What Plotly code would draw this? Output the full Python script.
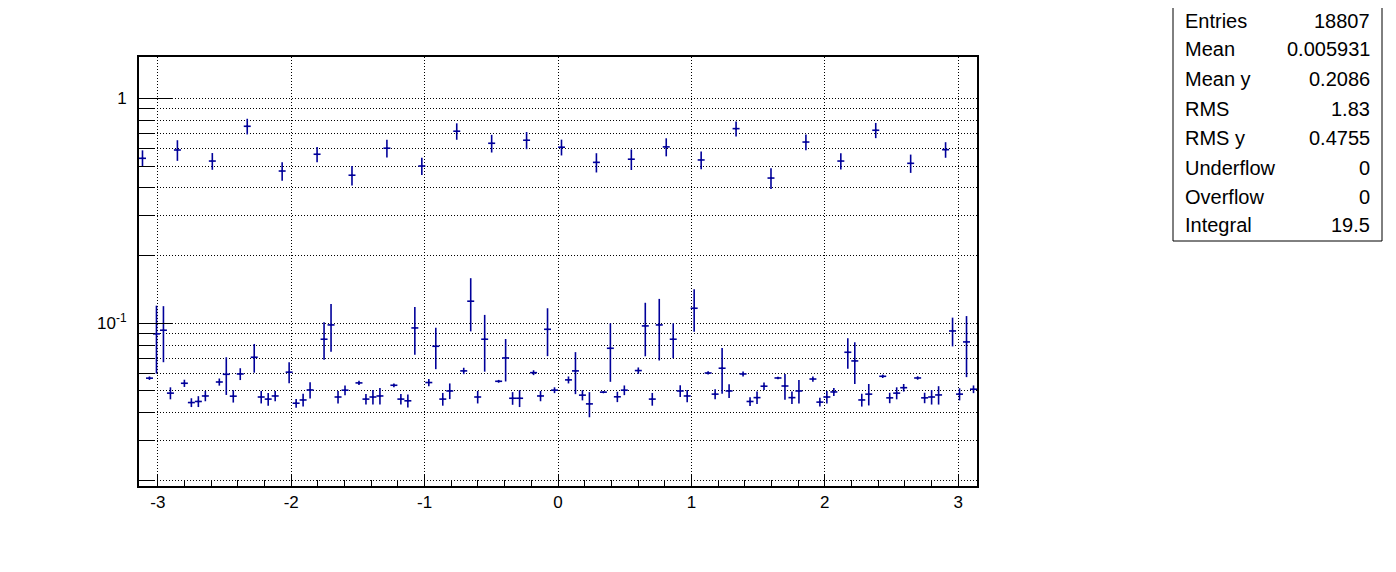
import plotly.graph_objects as go
import math

# ---- Binning of the profile (120 bins over [-pi, pi]) ----
n_bins = 120
x_min = -math.pi
x_max = math.pi

# ---- Bin contents (mean y per bin) ----
y_values = [
    0.541, 0.0570, 0.0897, 0.0931, 0.0489,
    0.589, 0.0541, 0.0444, 0.0449, 0.0475,
    0.526, 0.0548, 0.0593, 0.0474, 0.0595,
    0.751, 0.0706, 0.0470, 0.0460, 0.0475,
    0.475, 0.0606, 0.0441, 0.0456, 0.0505,
    0.564, 0.0849, 0.0983, 0.0470, 0.0504,
    0.455, 0.0543, 0.0460, 0.0470, 0.0475,
    0.600, 0.0530, 0.0460, 0.0452, 0.0953,
    0.500, 0.0545, 0.0790, 0.0460, 0.0500,
    0.714, 0.0614, 0.1253, 0.0470, 0.0849,
    0.631, 0.0552, 0.0701, 0.0464, 0.0464,
    0.651, 0.0603, 0.0475, 0.0940, 0.0504,
    0.606, 0.0560, 0.0614, 0.0479, 0.0438,
    0.519, 0.0494, 0.0774, 0.0471, 0.0504,
    0.536, 0.0616, 0.0973, 0.0460, 0.0983,
    0.608, 0.0849, 0.0500, 0.0475, 0.1166,
    0.532, 0.0601, 0.0484, 0.0631, 0.0500,
    0.733, 0.0595, 0.0449, 0.0467, 0.0525,
    0.442, 0.0571, 0.0526, 0.0467, 0.0500,
    0.639, 0.0565, 0.0446, 0.0470, 0.0495,
    0.526, 0.0743, 0.0680, 0.0456, 0.0484,
    0.721, 0.0581, 0.0466, 0.0489, 0.0517,
    0.514, 0.0571, 0.0466, 0.0470, 0.0480,
    0.591, 0.0924, 0.0484, 0.0826, 0.0509,
]

# ---- Errors on the bin contents ----
y_errors = [
    0.046, 0.0010, 0.0300, 0.0260, 0.0030,
    0.062, 0.0020, 0.0020, 0.0025, 0.0025,
    0.045, 0.0020, 0.0113, 0.0030, 0.0036,
    0.060, 0.0103, 0.0030, 0.0030, 0.0025,
    0.045, 0.0065, 0.0020, 0.0030, 0.0042,
    0.044, 0.0160, 0.0236, 0.0030, 0.0025,
    0.045, 0.0012, 0.0025, 0.0035, 0.0040,
    0.054, 0.0010, 0.0025, 0.0030, 0.0228,
    0.044, 0.0020, 0.0165, 0.0030, 0.0040,
    0.060, 0.0020, 0.0333, 0.0030, 0.0240,
    0.057, 0.0008, 0.0150, 0.0030, 0.0040,
    0.057, 0.0015, 0.0025, 0.0226, 0.0015,
    0.049, 0.0020, 0.0130, 0.0025, 0.0056,
    0.051, 0.0005, 0.0225, 0.0025, 0.0025,
    0.056, 0.0020, 0.0260, 0.0030, 0.0300,
    0.056, 0.0150, 0.0030, 0.0030, 0.0250,
    0.048, 0.0010, 0.0025, 0.0145, 0.0035,
    0.056, 0.0015, 0.0020, 0.0030, 0.0020,
    0.047, 0.0008, 0.0069, 0.0030, 0.0060,
    0.052, 0.0015, 0.0020, 0.0030, 0.0020,
    0.044, 0.0115, 0.0143, 0.0030, 0.0053,
    0.056, 0.0010, 0.0025, 0.0030, 0.0020,
    0.048, 0.0010, 0.0025, 0.0035, 0.0045,
    0.047, 0.0135, 0.0030, 0.0250, 0.0020,
]

# ---- Statistics box ----
stat_labels = ["Entries", "Mean", "Mean y", "RMS", "RMS y", "Underflow", "Overflow", "Integral"]
stat_values = ["18807", "0.005931", "0.2086", "1.83", "0.4755", "0", "0", "19.5"]

# ---- Axis ticks ----
x_tick_vals = [-3, -2, -1, 0, 1, 2, 3]
x_tick_text = ["-3", "-2", "-1", "0", "1", "2", "3"]
y_major_vals = [0.1, 1.0]
y_major_text = ["10<sup>-1</sup>", "1"]
y_minor_vals = [0.02, 0.03, 0.04, 0.05, 0.06, 0.07, 0.08, 0.09,
                0.2, 0.3, 0.4, 0.5, 0.6, 0.7, 0.8, 0.9]
y_min, y_max = 0.0189, 1.526

bin_w = (x_max - x_min) / n_bins
x_centers = [x_min + (i + 0.5) * bin_w for i in range(n_bins)]

# page body has an 8px margin -> figure drawn 8px in from the window corner
OFF = 8
W, H = 1396 - 2 * OFF, 572 - 2 * OFF
L, T = 139 - OFF, 57 - OFF
R = W - (977 - OFF)
B = H - (486 - OFF)
pw, ph = W - L - R, H - T - B

def px(xpix):
    return (xpix - OFF - L) / pw

def py(ypix):
    return (H - B - (ypix - OFF)) / ph

col = "#00009a"
font = "Liberation Sans, Arial, Helvetica, sans-serif"
dots = "1px,2px"

fig = go.Figure()
fig.add_trace(go.Scatter(
    x=x_centers, y=y_values, mode="markers",
    marker=dict(size=2, color=col),
    error_y=dict(type="data", array=y_errors, width=0, thickness=1.6, color=col),
    error_x=dict(type="data", array=[bin_w / 2] * n_bins, width=0, thickness=1.6, color=col),
    showlegend=False, hoverinfo="x+y",
))
# invisible companion trace on the overlay axis carrying the minor log ticks/grid
fig.add_trace(go.Scatter(
    x=x_centers[:1], y=y_values[:1], mode="markers", yaxis="y2",
    marker=dict(size=1, color=col, opacity=0), showlegend=False, hoverinfo="skip",
))

shapes = [dict(type="rect", xref="paper", yref="paper",
               x0=px(1173), x1=px(1382), y0=py(241), y1=py(3),
               line=dict(color="black", width=1), fillcolor="white")]

annotations = []
row_y = [20.7, 49.5, 79, 108.5, 137.5, 167.5, 196.5, 225]
for lab, val, ry in zip(stat_labels, stat_values, row_y):
    annotations.append(dict(xref="paper", yref="paper", x=px(1183), y=py(ry),
                            text=lab, showarrow=False, xanchor="left", yanchor="middle",
                            font=dict(family=font, size=20, color="black")))
    annotations.append(dict(xref="paper", yref="paper", x=px(1372), y=py(ry),
                            text=val, showarrow=False, xanchor="right", yanchor="middle",
                            font=dict(family=font, size=20, color="black")))

yrange = [math.log10(y_min), math.log10(y_max)]
fig.update_layout(
    width=W, height=H, autosize=False,
    margin=dict(l=L, r=R, t=T, b=B, pad=0),
    paper_bgcolor="white", plot_bgcolor="white",
    shapes=shapes, annotations=annotations,
    font=dict(family=font, size=17, color="black"),
    xaxis=dict(
        range=[x_min, x_max], tickmode="array", tickvals=x_tick_vals, ticktext=x_tick_text,
        ticks="inside", ticklen=12, tickcolor="black", tickwidth=1,
        showgrid=True, gridcolor="black", griddash=dots, gridwidth=1,
        zeroline=False, showline=True, linecolor="black", linewidth=2, mirror=True,
        minor=dict(tick0=0, dtick=0.2, ticks="inside", ticklen=6, tickcolor="black",
                   tickwidth=1, showgrid=False),
        tickfont=dict(family=font, size=17), ticklabelstandoff=0,
    ),
    yaxis=dict(
        type="log", range=yrange,
        tickmode="array", tickvals=y_major_vals, ticktext=y_major_text,
        ticks="inside", ticklen=33, tickcolor="black", tickwidth=1,
        showgrid=True, gridcolor="black", griddash=dots, gridwidth=1,
        zeroline=False, showline=True, linecolor="black", linewidth=2, mirror=True,
        tickfont=dict(family=font, size=17), ticklabelstandoff=7,
    ),
    yaxis2=dict(
        type="log", range=yrange, overlaying="y", side="left",
        tickmode="array", tickvals=y_minor_vals, showticklabels=False,
        ticks="inside", ticklen=16, tickcolor="black", tickwidth=1,
        showgrid=True, gridcolor="black", griddash=dots, gridwidth=1,
        zeroline=False, showline=False,
    ),
)

fig.write_html("out.html")
